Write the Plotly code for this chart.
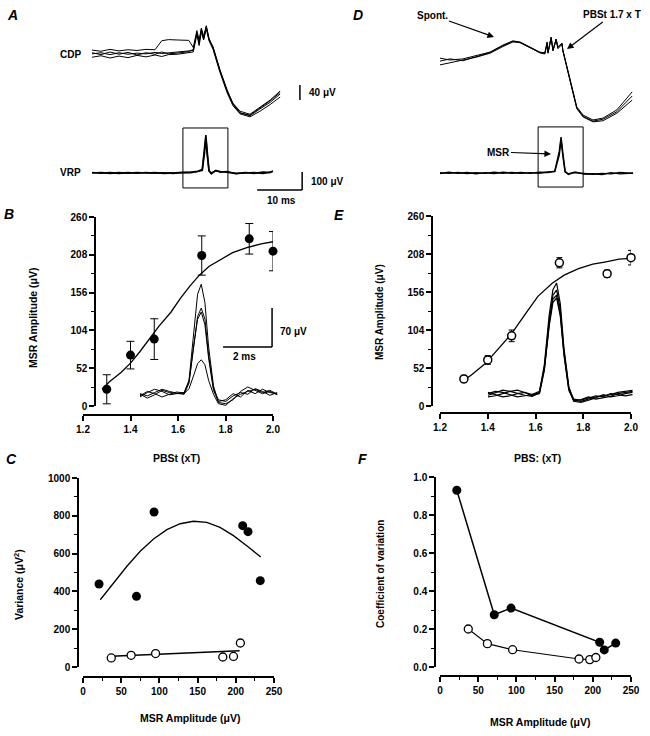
import plotly.graph_objects as go

W, H = 650, 736
def px(x): return x / W
def py(y): return 1 - y / H

# ================= DATA =================
# Panel A - cord dorsum potential (CDP) traces: time (ms), amplitude (uV)
cdpA_t = [0, 2, 4, 6, 8, 10, 12, 14, 15.5, 17, 19, 21.5, 22.5, 23.3, 23.8, 24.3, 24.8, 25.4, 26, 26.9, 28.4, 30, 31.3, 32.9, 35.1, 37.3, 39.6, 41.8]
cdpA_1 = [13, 10, 15, 11, 14, 12, 15, 14, 38, 41, 40, 39, 20, 65, 40, 72, 50, 78, 45, 18, -42, -95, -128, -150, -158, -140, -120, -96]
cdpA_2 = [3, 6, 1, 6, 2, 5, 3, 7, 4, 6, 8, 10, 12, 60, 30, 68, 45, 74, 42, 22, -38, -92, -130, -154, -162, -144, -126, -104]
cdpA_3 = [-6, -2, -8, -3, -7, -1, -5, 0, -4, 1, 2, 5, 8, 55, 25, 62, 40, 70, 38, 15, -45, -100, -135, -157, -165, -150, -132, -112]
cdpA_4 = [6, 1, 8, 2, 7, 0, 6, 2, 8, 3, 5, 9, 15, 58, 35, 66, 42, 76, 40, 20, -40, -96, -131, -155, -160, -142, -122, -100]

# Panel A - ventral root potential (VRP)
vrpA_t = [0, 2, 4, 6, 8, 10, 12, 14, 16, 18, 20, 22, 23.5, 24.5, 25.0, 25.3, 25.6, 26.0, 26.5, 27.5, 28.5, 30, 32, 34, 36, 38, 39.5, 40.2]
vrpA_1 = [0, 3, -2, 2, -1, 3, 0, 2, -2, 1, 0, 5, 10, 20, 140, 211, 120, 15, -5, 15, 5, 8, -4, 3, -2, 5, 2, 12]
vrpA_2 = [3, -1, 2, -2, 2, -1, 3, -1, 1, -2, 3, 2, 8, 15, 110, 195, 100, 10, 0, 12, 8, 3, -2, 0, 3, -3, 6, 8]

# Panel D - CDP traces
cdpD_t = [0, 2.2, 5.1, 8.2, 11.1, 14.0, 16.2, 17.8, 20.0, 22.2, 23.3, 23.8, 24.0, 24.7, 25.1, 25.8, 26.2, 27.1, 27.3, 28.9, 30.4, 31.8, 34.0, 36.2, 39.3, 42.7]
cdpD_1 = [5, 0, 3, 13, 21, 40, 51, 48, 35, 21, 19, 48, 21, 61, 27, 56, 35, 45, 27, -53, -125, -147, -160, -155, -133, -85]
cdpD_2 = [-13, -8, 0, 8, 18, 36, 48, 47, 33, 19, 16, 44, 18, 58, 24, 53, 30, 42, 24, -58, -130, -152, -165, -162, -142, -107]
cdpD_3 = [-3, 3, -2, 10, 20, 38, 50, 46, 34, 20, 18, 46, 20, 60, 26, 55, 33, 44, 25, -55, -128, -150, -163, -158, -138, -96]

# Panel D - VRP traces
vrpD_t = [0, 2, 4, 6, 8, 10, 12, 14, 16, 18, 20, 22, 24, 25.5, 26.5, 26.9, 27.3, 27.8, 28.5, 30, 32, 34, 36, 38, 40, 42.9]
vrpD_1 = [-3, 4, -2, 3, -4, 2, -3, 4, -1, 3, -2, 4, 3, 10, 120, 200, 110, 10, -8, 5, -6, -4, -8, 2, -5, 0]
vrpD_2 = [2, -2, 3, -3, 1, -2, 4, -1, 3, -2, 2, -1, 6, 8, 100, 185, 95, 5, -4, 2, -3, -7, -2, -5, 3, -2]

# Boxes and scale bars (ms, uV)
boxA_t = [20.2, 30.2]; boxA_v = [-83, 250]
boxD_t = [21.8, 31.8]; boxD_v = [-78, 256]
cdp_bar_t = 46.2; cdp_bar_v = [-120, -80]          # 40 uV
vrp_bar_t = [36.7, 46.7]; vrp_bar_v = [-95, 5]      # 10 ms, 100 uV

# Panel B - MSR amplitude vs stimulus strength
stim = [1.3, 1.4, 1.5, 1.7, 1.9, 2.0]
msrB = [23, 70, 92, 207, 230, 213]
msrB_err = [20, 19, 28, 27, 21, 27]
fitB_x = [1.28, 1.31, 1.36, 1.40, 1.44, 1.48, 1.52, 1.57, 1.61, 1.65, 1.69, 1.73, 1.78, 1.83, 1.89, 1.95, 2.0]
fitB_y = [23, 33, 46, 59, 75, 92, 110, 129, 148, 165, 180, 192, 202, 211, 218, 223, 226]

# Panel B inset - MSR waveforms (ms, uV)
insB_t = [0, 0.3, 0.6, 0.9, 1.2, 1.5, 1.8, 2.0, 2.2, 2.35, 2.5, 2.65, 2.8, 3.0, 3.2, 3.5, 3.8, 4.1, 4.4, 4.7, 5.0, 5.3, 5.6]
insB_1 = [0, 8, 14, 10, 4, 6, 8, 30, 120, 185, 203, 170, 90, 20, -10, -12, -5, 10, 18, 12, 6, 10, 4]
insB_2 = [5, -2, 4, 12, 8, 6, 5, 25, 100, 145, 160, 140, 75, 15, -5, -8, 2, 8, 5, 15, 10, 3, 8]
insB_3 = [2, 10, 6, 0, 5, 9, 7, 28, 95, 140, 153, 130, 70, 12, -8, -5, 6, 0, 12, 6, 14, 8, 6]
insB_4 = [6, 2, 8, 14, 10, 7, 6, 15, 40, 60, 67, 58, 30, 5, -12, -15, -3, 5, 10, 14, 8, 12, 5]
insB_bar_t = [3.39, 5.39]; insB_bar_v = [90, 160]   # 2 ms, 70 uV

# Panel E - MSR amplitude vs stimulus strength
msrE = [37, 63, 96, 196, 181, 203]
msrE_err = [5, 6, 8, 7, 5, 10]
fitE_x = [1.29, 1.33, 1.39, 1.44, 1.50, 1.56, 1.61, 1.67, 1.72, 1.78, 1.84, 1.89, 1.95, 2.0]
fitE_y = [33, 42, 58, 76, 99, 127, 150, 168, 179, 188, 194, 197, 201, 202]

# Panel E inset - MSR waveforms (ms, uV)
insE_t = [0, 0.3, 0.6, 0.9, 1.2, 1.5, 1.8, 2.1, 2.3, 2.5, 2.65, 2.8, 2.95, 3.1, 3.3, 3.5, 3.8, 4.1, 4.4, 4.7, 5.0, 5.3, 5.6, 5.9]
insE_1 = [5, 10, 14, 12, 8, 5, 3, 10, 60, 150, 195, 207, 170, 90, 20, -4, -6, -2, 2, 4, 6, 10, 12, 14]
insE_2 = [10, 6, 2, 4, 8, 10, 6, 12, 55, 140, 185, 194, 160, 85, 18, -6, -8, -4, 0, 6, 2, 4, 8, 10]
insE_3 = [2, 4, 8, 12, 14, 10, 4, 8, 50, 135, 178, 185, 152, 80, 15, -2, -4, 0, 4, 2, 8, 6, 4, 6]
insE_4 = [8, 12, 10, 6, 2, 4, 6, 9, 52, 130, 172, 180, 148, 78, 14, -5, -3, 2, -2, 0, 3, 8, 10, 12]

# Panel C - variance vs MSR amplitude
varC_fx = [21, 70, 93, 209, 216, 232]
varC_fy = [439, 374, 820, 748, 716, 457]
varC_ox = [37, 63, 95, 183, 197, 206]
varC_oy = [48, 62, 71, 53, 56, 127]
fitC_x = [22.6, 40.1, 57.5, 74.9, 92.3, 109.8, 127.2, 144.6, 162, 179.4, 196.9, 214.3, 232.6]
fitC_y = [356, 444, 533, 612, 677, 727, 758, 771, 765, 739, 695, 642, 582]
linC_x = [37, 205]
linC_y = [57, 86]

# Panel F - coefficient of variation vs MSR amplitude
cvF_fx = [22, 71, 93, 209, 215, 230]
cvF_fy = [0.93, 0.275, 0.31, 0.13, 0.09, 0.126]
cvF_ox = [37, 62, 95, 182, 196, 204]
cvF_oy = [0.20, 0.123, 0.091, 0.042, 0.039, 0.05]

# ================= FIGURE =================
fig = go.Figure()
FONT = "Liberation Sans, Arial, sans-serif"

def line_trace(x, y, xa, ya, w=1.0):
    fig.add_trace(go.Scatter(x=x, y=y, mode="lines", xaxis=xa, yaxis=ya,
                             line=dict(color="black", width=w), showlegend=False,
                             hoverinfo="skip", cliponaxis=False))

# A
for tr in (cdpA_1, cdpA_2, cdpA_3, cdpA_4):
    line_trace(cdpA_t, tr, "x", "y", 1.0)
for tr in (vrpA_1, vrpA_2):
    line_trace(vrpA_t, tr, "x2", "y2", 1.6)
# D
for tr in (cdpD_1, cdpD_2, cdpD_3):
    line_trace(cdpD_t, tr, "x3", "y3", 1.0)
for tr in (vrpD_1, vrpD_2):
    line_trace(vrpD_t, tr, "x4", "y4", 1.4)

# B
line_trace(fitB_x, fitB_y, "x5", "y5", 1.3)
fig.add_trace(go.Scatter(x=stim, y=msrB, mode="markers", xaxis="x5", yaxis="y5",
                         marker=dict(color="black", size=9),
                         error_y=dict(type="data", array=msrB_err, color="black", thickness=1, width=4),
                         showlegend=False, cliponaxis=False))
for tr in (insB_1, insB_2, insB_3, insB_4):
    line_trace(insB_t, tr, "x6", "y6", 1.0)

# E
line_trace(fitE_x, fitE_y, "x7", "y7", 1.3)
fig.add_trace(go.Scatter(x=stim, y=msrE, mode="markers", xaxis="x7", yaxis="y7",
                         marker=dict(color="white", size=8, line=dict(color="black", width=1.5)),
                         error_y=dict(type="data", array=msrE_err, color="black", thickness=1, width=3),
                         showlegend=False, cliponaxis=False))
for tr in (insE_1, insE_2, insE_3, insE_4):
    line_trace(insE_t, tr, "x8", "y8", 1.2)

# C
line_trace(fitC_x, fitC_y, "x9", "y9", 1.3)
line_trace(linC_x, linC_y, "x9", "y9", 1.3)
fig.add_trace(go.Scatter(x=varC_fx, y=varC_fy, mode="markers", xaxis="x9", yaxis="y9",
                         marker=dict(color="black", size=9), showlegend=False, cliponaxis=False))
fig.add_trace(go.Scatter(x=varC_ox, y=varC_oy, mode="markers", xaxis="x9", yaxis="y9",
                         marker=dict(color="white", size=8, line=dict(color="black", width=1.3)),
                         showlegend=False, cliponaxis=False))

# F
fig.add_trace(go.Scatter(x=cvF_fx, y=cvF_fy, mode="lines+markers", xaxis="x10", yaxis="y10",
                         line=dict(color="black", width=1.5),
                         marker=dict(color="black", size=9), showlegend=False, cliponaxis=False))
fig.add_trace(go.Scatter(x=cvF_ox, y=cvF_oy, mode="lines+markers", xaxis="x10", yaxis="y10",
                         line=dict(color="black", width=1.1),
                         marker=dict(color="white", size=8, line=dict(color="black", width=1.3)),
                         showlegend=False, cliponaxis=False))

# ---------- axes ----------
def hidden(dx, dy, rx, ry, anchor):
    return dict(domain=[px(dx[0]), px(dx[1])], range=rx, visible=False, anchor=anchor,
                showgrid=False, zeroline=False, fixedrange=True, automargin=False), \
           dict(domain=[py(dy[1]), py(dy[0])], range=ry, visible=False,
                showgrid=False, zeroline=False, fixedrange=True, automargin=False)

tickfont = dict(family=FONT, size=10, color="black", weight="bold")
def ax_common():
    return dict(showline=True, linecolor="black", linewidth=1.5, ticks="outside", ticklen=5,
                tickwidth=1.5, tickcolor="black", showgrid=False, zeroline=False,
                tickfont=tickfont, fixedrange=True, automargin=False)

lay = {}
xa, ya = hidden((80, 350), (20, 130), [-2.667, 57.33], [-200, 93.3], "y")
lay["xaxis"], lay["yaxis"] = xa, ya
xa, ya = hidden((80, 350), (120, 200), [-2.667, 57.33], [-150, 294.4], "y2")
lay["xaxis2"], lay["yaxis2"] = xa, ya
xa, ya = hidden((428, 648), (20, 130), [-2.667, 46.22], [-186.7, 106.7], "y3")
lay["xaxis3"], lay["yaxis3"] = xa, ya
xa, ya = hidden((428, 648), (120, 200), [-2.667, 46.22], [-150, 294.4], "y4")
lay["xaxis4"], lay["yaxis4"] = xa, ya
xa, ya = hidden((130, 290), (270, 420), [-0.408, 6.122], [-41.4, 228.6], "y6")
lay["xaxis6"], lay["yaxis6"] = xa, ya
xa, ya = hidden((478, 640), (270, 420), [-0.408, 6.204], [-39.6, 230.4], "y8")
lay["xaxis8"], lay["yaxis8"] = xa, ya

# B
lay["xaxis5"] = dict(ax_common(), domain=[px(83), px(273)], range=[1.2, 2.0], anchor="free",
                     position=py(415), tickvals=[1.2, 1.4, 1.6, 1.8, 2.0], tickformat=".1f")
lay["yaxis5"] = dict(ax_common(), domain=[py(406), py(217)], range=[0, 260], anchor="free",
                     position=px(95), tick0=0, dtick=52,
                     minor=dict(ticks="outside", ticklen=3, tickwidth=1.2, tickcolor="black", dtick=26, tick0=0))
# E
lay["xaxis7"] = dict(ax_common(), domain=[px(440), px(631)], range=[1.2, 2.0], anchor="free",
                     position=py(413), tickvals=[1.2, 1.4, 1.6, 1.8, 2.0], tickformat=".1f")
lay["yaxis7"] = dict(ax_common(), domain=[py(406), py(216)], range=[0, 260], anchor="free",
                     position=px(432), tick0=0, dtick=52,
                     minor=dict(ticks="outside", ticklen=3, tickwidth=1.2, tickcolor="black", dtick=26, tick0=0))
# C
lay["xaxis9"] = dict(ax_common(), domain=[px(83), px(274)], range=[0, 250], anchor="free",
                     position=py(677), tick0=0, dtick=50,
                     minor=dict(ticks="outside", ticklen=3, tickwidth=1.2, tickcolor="black", dtick=25, tick0=0))
lay["yaxis9"] = dict(ax_common(), domain=[py(667), py(478)], range=[0, 1000], anchor="free",
                     position=px(78), tick0=0, dtick=200,
                     minor=dict(ticks="outside", ticklen=3, tickwidth=1.2, tickcolor="black", dtick=100, tick0=0))
# F
lay["xaxis10"] = dict(ax_common(), domain=[px(440), px(631)], range=[0, 250], anchor="free",
                      position=py(676), tick0=0, dtick=50,
                      minor=dict(ticks="outside", ticklen=3, tickwidth=1.2, tickcolor="black", dtick=25, tick0=0))
lay["yaxis10"] = dict(ax_common(), domain=[py(667), py(477)], range=[0, 1.0], anchor="free",
                      position=px(435), tick0=0, dtick=0.2, tickformat=".1f",
                      minor=dict(ticks="outside", ticklen=3, tickwidth=1.2, tickcolor="black", dtick=0.1, tick0=0))

fig.update_layout(**lay)

# ---------- shapes: boxes and scale bars ----------
shapes = []
def seg(xr, yr, x0, y0, x1, y1, w=1.5):
    shapes.append(dict(type="line", xref=xr, yref=yr, x0=x0, y0=y0, x1=x1, y1=y1,
                       line=dict(color="black", width=w)))
def rect(xr, yr, xs, ys):
    shapes.append(dict(type="rect", xref=xr, yref=yr, x0=xs[0], x1=xs[1], y0=ys[0], y1=ys[1],
                       line=dict(color="black", width=1)))

rect("x2", "y2", boxA_t, boxA_v)
rect("x4", "y4", boxD_t, boxD_v)
seg("x", "y", cdp_bar_t, cdp_bar_v[0], cdp_bar_t, cdp_bar_v[1])
seg("x2", "y2", vrp_bar_t[1], vrp_bar_v[0], vrp_bar_t[1], vrp_bar_v[1])
seg("x2", "y2", vrp_bar_t[0], vrp_bar_v[0], vrp_bar_t[1], vrp_bar_v[0])
seg("x6", "y6", insB_bar_t[1], insB_bar_v[0], insB_bar_t[1], insB_bar_v[1])
seg("x6", "y6", insB_bar_t[0], insB_bar_v[0], insB_bar_t[1], insB_bar_v[0])

# ---------- annotations ----------
ann = []
def txt(x, y, s, size=10, xanchor="center", angle=0, italic=False, weight="bold"):
    ann.append(dict(x=px(x), y=py(y), xref="paper", yref="paper", text=s, showarrow=False,
                    xanchor=xanchor, yanchor="middle", textangle=angle,
                    font=dict(family=FONT, size=size, color="black", weight=weight,
                              style="italic" if italic else "normal")))
def arrow_label(tx, ty, hx, hy, s, size=10):
    # text centred at (tx, ty); arrow head at (hx, hy)
    ann.append(dict(x=px(hx), y=py(hy), xref="paper", yref="paper", text=s,
                    showarrow=True, ax=tx - hx, ay=ty - hy, axref="pixel", ayref="pixel",
                    arrowhead=2, arrowsize=1.1, arrowwidth=1.2, arrowcolor="black",
                    font=dict(family=FONT, size=size, color="black", weight="bold")))

# panel letters
txt(12, 15, "A", 14, italic=True)
txt(9, 214, "B", 14, italic=True)
txt(11, 459, "C", 14, italic=True)
txt(358, 15, "D", 14, italic=True)
txt(339, 215, "E", 14, italic=True)
txt(362, 459, "F", 14, italic=True)

# A / D labels
txt(70, 55, "CDP", 10)
txt(70, 173, "VRP", 10)
txt(307, 92, "40 μV", 10, xanchor="left")
txt(309, 182, "100 μV", 10, xanchor="left")
txt(281, 200, "10 ms", 10)
arrow_label(432, 15, 494, 37, "Spont.")
arrow_label(612, 15, 567, 49, "PBSt 1.7 x T")
arrow_label(498, 152, 551, 154, "MSR")

# B
txt(33, 318, "MSR Amplitude (μV)", 10.5, angle=-90)
txt(176, 458, "PBSt (xT)", 10.5)
txt(278, 331, "70 μV", 10, xanchor="left")
txt(244, 356, "2 ms", 10)
# E
txt(379, 312, "MSR Amplitude (μV)", 10, angle=-90)
txt(537, 458, "PBS: (xT)", 10.5)
# C
txt(18, 585, "Variance (μV<sup>2</sup>)", 10.5, angle=-90)
txt(190, 718, "MSR Amplitude (μV)", 10.5)
# F
txt(380, 574, "Coefficient of variation", 10, angle=-90)
txt(540, 722, "MSR Amplitude (μV)", 10.5)

fig.update_layout(shapes=shapes, annotations=ann, width=W, height=H,
                  margin=dict(l=0, r=0, t=0, b=0, autoexpand=False), autosize=False,
                  paper_bgcolor="white", plot_bgcolor="rgba(0,0,0,0)",
                  font=dict(family=FONT, color="black"), showlegend=False)

fig.write_html("out.html", config=dict(displayModeBar=False),
               post_script="document.body.style.margin='0px';document.body.style.padding='0px';")
